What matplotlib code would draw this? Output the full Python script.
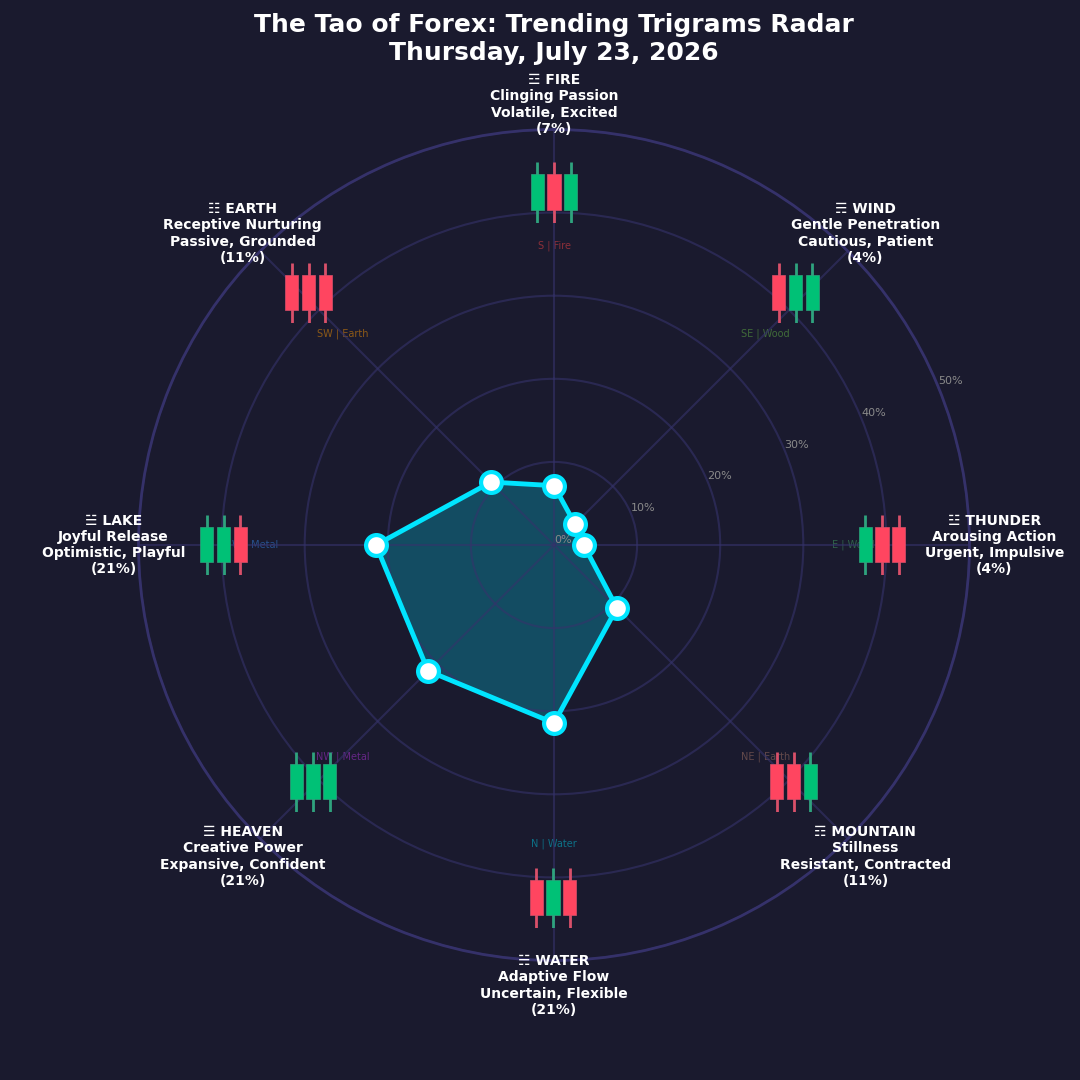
import numpy as np
import matplotlib
matplotlib.use('Agg')
import matplotlib.pyplot as plt

# clockwise from the top
trigrams = ['☲ FIRE', '☴ WIND', '☳ THUNDER', '☶ MOUNTAIN', '☵ WATER', '☰ HEAVEN', '☱ LAKE', '☷ EARTH']
meanings = ['Clinging Passion', 'Gentle Penetration', 'Arousing Action', 'Stillness',
            'Adaptive Flow', 'Creative Power', 'Joyful Release', 'Receptive Nurturing']
moods = ['Volatile, Excited', 'Cautious, Patient', 'Urgent, Impulsive', 'Resistant, Contracted',
         'Uncertain, Flexible', 'Expansive, Confident', 'Optimistic, Playful', 'Passive, Grounded']
values = [7.14, 3.57, 3.57, 10.71, 21.43, 21.43, 21.43, 10.71]
pct_labels = ['7%', '4%', '4%', '11%', '21%', '21%', '21%', '11%']
directions = ['S | Fire', 'SE | Wood', 'E | Wood', 'NE | Earth', 'N | Water', 'NW | Metal', 'W | Metal', 'SW | Earth']
dir_colors = ['#ff4444', '#66bb44', '#44aa66', '#aa7766', '#00c8e0', '#b033dd', '#3388ee', '#ff9800']

# 1 = up candle, 0 = down candle
candles = [[1, 0, 1], [0, 1, 1], [1, 0, 0], [0, 0, 1], [0, 1, 0], [1, 1, 1], [1, 1, 0], [0, 0, 0]]
candle_open = -0.58
candle_close = 0.6
wick_low = -1
wick_high = 1

# candle group centres in pixels, measured from the top left
candle_px = [(554, 192.5), (795.5, 292.5), (882, 545), (793.5, 781.5), (553, 898), (313, 781.5), (223.5, 545), (308.5, 292.5)]

BG = '#1a1a2e'
CYAN = '#00e5ff'
UP = '#00c176'
DOWN = '#ff4560'
UP_WICK = '#2fa37e'
DOWN_WICK = '#d9506a'

theta = np.deg2rad(np.arange(0, 360, 45))

fig = plt.figure(figsize=(10.8, 10.8), dpi=100, facecolor=BG)
ax = fig.add_axes([138.5 / 1080, 119.5 / 1080, 831 / 1080, 831 / 1080], projection='polar', facecolor=BG)
ax.set_theta_zero_location('N')
ax.set_theta_direction(-1)
ax.set_ylim(0, 50)
ax.set_rticks([0, 10, 20, 30, 40, 50])
ax.set_yticklabels(['0%', '10%', '20%', '30%', '40%', '50%'], color='#8a8a8a', fontsize=8)
ax.set_rlabel_position(67.5)
ax.set_xticks(theta)
ax.set_xticklabels([])
ax.set_axisbelow(False)
ax.grid(color='#35336b', alpha=0.6, linewidth=1.5)
ax.spines['polar'].set_color('#35316a')
ax.spines['polar'].set_linewidth(2)

t_closed = np.append(theta, theta[0])
v_closed = np.append(values, values[0])
ax.fill(t_closed, v_closed, color=CYAN, alpha=0.25, zorder=1, linewidth=0)
ax.plot(t_closed, v_closed, color=CYAN, linewidth=3.5, zorder=4)
ax.plot(theta, values, 'o', markersize=15, markerfacecolor='white', markeredgecolor=CYAN,
        markeredgewidth=3, zorder=5, clip_on=False)

for i in range(8):
    ax.text(theta[i], 36, directions[i], color=dir_colors[i], alpha=0.5, fontsize=7,
            ha='center', va='center', zorder=2)
    label = trigrams[i] + '\n' + meanings[i] + '\n' + moods[i] + '\n(' + pct_labels[i] + ')'
    ax.text(theta[i], 53, label, color='white', fontsize=10, fontweight='bold',
            ha='center', va='center', zorder=10, clip_on=False)

# little candle groups on top of the radar
for i in range(8):
    cx, cy = candle_px[i]
    w, h = 67, 60
    cax = fig.add_axes([(cx - w / 2) / 1080, 1 - (cy + h / 2) / 1080, w / 1080, h / 1080])
    cax.patch.set_alpha(0)
    cax.axis('off')
    cax.set_xlim(-1, 3)
    cax.set_ylim(wick_low, wick_high)
    for k, up in enumerate(candles[i]):
        col = UP if up else DOWN
        wick_col = UP_WICK if up else DOWN_WICK
        cax.vlines(k, wick_low, wick_high, color=wick_col, linewidth=2, zorder=1)
        cax.bar(k, candle_close - candle_open, bottom=candle_open, width=0.8, color=col,
                edgecolor=wick_col, linewidth=0.5, zorder=2)

fig.text(554 / 1080, 1 - 39 / 1080, 'The Tao of Forex: Trending Trigrams Radar\nThursday, July 23, 2026',
         color='white', fontsize=18, fontweight='bold', ha='center', va='center')

fig.savefig('out.png', dpi=100, facecolor=BG)
